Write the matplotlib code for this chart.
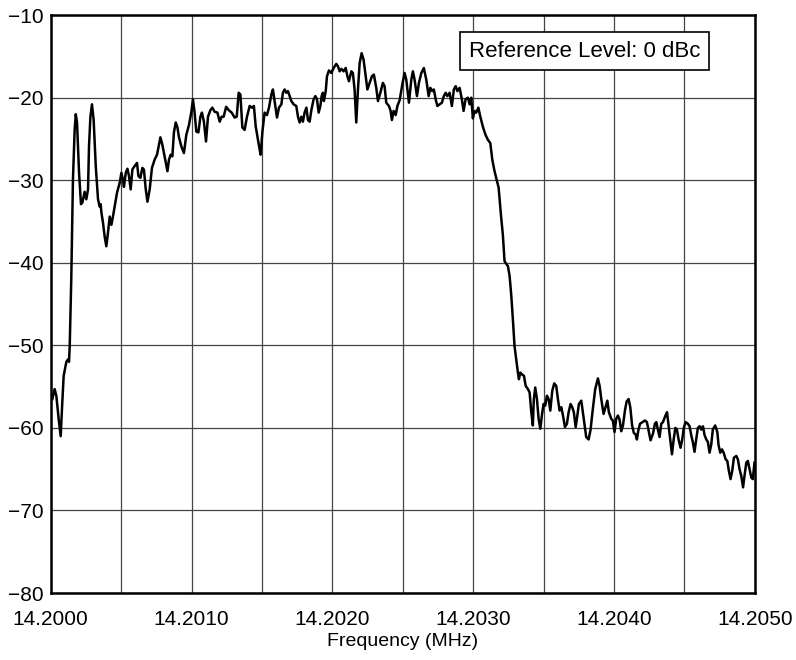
import numpy as np
import matplotlib.pyplot as plt
from matplotlib.ticker import MultipleLocator, FormatStrFormatter

plt.rcParams['font.family'] = ['Liberation Sans', 'DejaVu Sans']

# trace: offset from 14.2 MHz in Hz, level in dBc
offset_hz = [
    12, 28, 40, 57, 71, 82, 92, 111, 123, 130, 135, 146, 158, 170, 178, 187,
    201, 215, 225, 241, 253, 265, 272, 282, 293, 305, 320, 336, 348, 355, 360,
    371, 383, 395, 407, 419, 431, 442, 454, 471, 490, 502, 513, 520, 533, 545,
    556, 568, 580, 591, 604, 613, 623, 637, 651, 662, 675, 687, 703, 719, 738,
    755, 779, 793, 809, 829, 840, 852, 864, 875, 888, 900, 911, 928, 946, 963,
    982, 999, 1010, 1022, 1034, 1049, 1063, 1074, 1088, 1103, 1117, 1134, 1148,
    1164, 1184, 1200, 1214, 1228, 1246, 1264, 1285, 1306, 1321, 1335, 1347,
    1361, 1377, 1394, 1413, 1429, 1443, 1456, 1472, 1484, 1491, 1503, 1519,
    1536, 1550, 1567, 1578, 1593, 1607, 1621, 1638, 1649, 1661, 1673, 1685,
    1697, 1709, 1725, 1744, 1756, 1768, 1780, 1791, 1803, 1816, 1827, 1839,
    1851, 1867, 1880, 1891, 1903, 1915, 1924, 1933, 1940, 1953, 1962, 1976,
    1993, 2009, 2028, 2040, 2052, 2064, 2080, 2095, 2107, 2118, 2135, 2146,
    2158, 2170, 2182, 2194, 2208, 2222, 2237, 2249, 2265, 2281, 2295, 2312,
    2324, 2341, 2359, 2371, 2383, 2402, 2414, 2423, 2435, 2450, 2462, 2478,
    2489, 2499, 2513, 2525, 2544, 2561, 2572, 2584, 2601, 2615, 2632, 2650,
    2667, 2684, 2696, 2710, 2721, 2734, 2746, 2762, 2778, 2792, 2805, 2817,
    2833, 2849, 2863, 2876, 2888, 2904, 2920, 2932, 2946, 2963, 2975, 2987,
    2998, 3010, 3022, 3037, 3051, 3069, 3088, 3105, 3122, 3136, 3152, 3169,
    3181, 3188, 3199, 3211, 3223, 3234, 3247, 3259, 3271, 3282, 3294, 3306,
    3318, 3325, 3335, 3346, 3361, 3373, 3389, 3401, 3413, 3424, 3431, 3441,
    3453, 3465, 3477, 3488, 3500, 3512, 3524, 3536, 3548, 3562, 3576, 3590,
    3602, 3614, 3626, 3638, 3652, 3666, 3678, 3692, 3704, 3715, 3728, 3740,
    3751, 3768, 3779, 3791, 3803, 3820, 3834, 3850, 3867, 3886, 3898, 3910,
    3926, 3940, 3953, 3964, 3981, 3992, 4004, 4016, 4028, 4040, 4052, 4064,
    4078, 4090, 4104, 4116, 4129, 4141, 4154, 4163, 4173, 4185, 4203, 4220,
    4234, 4248, 4260, 4277, 4291, 4301, 4312, 4324, 4336, 4348, 4366, 4377,
    4388, 4400, 4412, 4424, 4436, 4447, 4459, 4473, 4485, 4496, 4509, 4525,
    4537, 4549, 4560, 4572, 4584, 4596, 4608, 4620, 4632, 4644, 4656, 4667,
    4679, 4691, 4702, 4719, 4734, 4743, 4755, 4767, 4779, 4793, 4805, 4816,
    4828, 4840, 4852, 4869, 4880, 4892, 4904, 4917, 4927, 4940, 4951, 4963,
    4975, 4986, 4998,
]
level_dbc = [
    -56.5, -55.3, -56.1, -59.0, -61.0, -57.0, -53.7, -52.0, -51.7, -52.0, -50.1, -42.0, -29.9, -23.9, -22.0, -23.0,
    -29.0, -32.9, -32.7, -31.4, -32.3, -31.1, -25.9, -22.3, -20.8, -22.7, -28.3, -32.3, -33.2, -32.9, -33.9,
    -35.1, -36.8, -38.0, -36.3, -34.4, -35.4, -34.4, -33.2, -31.5, -30.3, -29.1, -29.9, -30.8, -29.1, -28.6,
    -29.5, -31.1, -28.7, -28.4, -28.1, -27.9, -29.5, -29.7, -28.5, -28.7, -31.1, -32.6, -31.1, -28.5, -27.5,
    -26.9, -24.8, -25.7, -27.1, -28.9, -27.5, -26.9, -27.1, -24.2, -23.0, -23.6, -24.8, -25.9, -26.7, -24.5,
    -23.3, -21.7, -20.2, -21.8, -24.1, -24.2, -22.3, -21.8, -22.9, -25.3, -22.3, -21.5, -21.2,
    -21.7, -21.8, -22.9, -22.3, -22.3, -21.1, -21.5, -21.8, -22.4, -22.3, -19.4, -19.6,
    -23.6, -23.9, -22.3, -21.0, -21.2, -21.0, -23.5, -25.1, -26.3, -26.9, -24.2, -21.8,
    -22.1, -21.2, -19.6, -19.0, -20.8, -22.4, -21.2, -20.8, -19.4, -19.0, -19.4, -19.2,
    -19.8, -20.4, -20.8, -21.0, -22.3, -23.0, -22.3, -22.9, -21.8, -21.2, -22.7, -22.9,
    -21.5, -20.2, -19.8, -20.2, -21.8, -21.0, -19.8, -19.4, -20.4, -19.2, -17.4, -16.7,
    -17.0, -16.4, -15.9, -16.2, -16.8, -16.5, -16.8, -16.4, -17.4, -18.0, -16.8, -17.0,
    -19.0, -23.0, -19.0, -15.8, -14.6, -15.4, -17.4, -19.0, -18.2, -17.4, -17.2, -18.8,
    -20.4, -19.4, -18.2, -18.6, -20.6, -21.0, -21.6, -22.7, -21.6, -22.1, -21.0, -20.3,
    -19.2, -18.2, -17.0, -17.8, -20.6, -17.8, -16.8, -17.8, -19.8, -18.2, -17.0, -16.4,
    -17.8, -19.8, -18.8, -19.2, -19.0, -20.2, -21.0, -20.8, -20.6, -19.8, -19.4, -19.8,
    -19.4, -21.0, -19.0, -18.6, -19.2, -18.8, -20.2, -21.6, -20.2, -20.0, -20.8, -20.0,
    -22.5, -21.6, -21.8, -21.2, -22.3, -23.5, -24.5, -25.1, -25.5, -27.5, -28.9, -30.1,
    -30.9, -32.3, -34.5, -36.6, -39.8, -40.1, -40.4, -41.6, -44.0, -46.8, -50.1, -51.7,
    -53.3, -54.1, -53.3, -53.5, -53.7, -54.9, -55.3, -55.7, -58.1, -59.7, -56.5, -55.1,
    -56.5, -58.9, -60.1, -58.5, -57.1, -57.3, -56.1, -56.5, -57.9, -55.5, -54.6, -54.9,
    -56.5, -57.9, -57.5, -58.5, -59.9, -59.5, -58.1, -57.1, -57.5, -58.1, -59.9, -58.5,
    -57.1, -56.7, -58.1, -59.7, -61.1, -61.4, -60.2, -57.7, -55.3, -54.0, -54.9, -56.5,
    -58.3, -57.5, -56.7, -58.1, -58.9, -59.1, -60.5, -58.9, -58.5, -59.0, -60.4, -59.7,
    -57.9, -56.8, -56.5, -57.5, -59.7, -60.6, -60.8, -61.4, -60.3, -59.5, -59.3, -59.1,
    -59.3, -60.5, -61.5, -60.7, -59.5, -59.3, -60.2, -61.1, -59.5, -59.3, -58.5, -58.1,
    -59.7, -61.4, -63.2, -61.4, -60.0, -60.2, -61.4, -62.4, -61.4, -60.0, -59.3, -59.5,
    -59.8, -60.9, -61.7, -62.9, -61.4, -60.0, -59.8, -60.2, -59.8, -60.9, -61.4, -61.7,
    -63.0, -62.0, -60.2, -59.7, -60.5, -62.1, -63.0, -62.6, -63.0, -63.8, -64.0, -65.2,
    -66.2, -65.2, -63.6, -63.4, -63.8, -65.0, -65.8, -67.2, -65.8, -64.2, -64.0, -65.0,
    -66.0, -66.2, -64.2,
]

freq_mhz = 14.2 + np.array(offset_hz) / 1e6

fig = plt.figure(figsize=(7.96, 6.6), dpi=100)
ax = fig.add_axes([0.0637, 0.1015, 0.8845, 0.8755])

ax.plot(freq_mhz, level_dbc, color='black', lw=1.8, zorder=3)

ax.set_xlim(14.2, 14.205)
ax.set_ylim(-80, -10)
ax.xaxis.set_major_locator(MultipleLocator(0.001))
ax.xaxis.set_minor_locator(MultipleLocator(0.0005))
ax.xaxis.set_major_formatter(FormatStrFormatter('%.4f'))
ax.yaxis.set_major_locator(MultipleLocator(10))
ax.grid(True, which='both', color='#444444', lw=0.9)
ax.tick_params(which='both', length=0, labelsize=15)
ax.tick_params(axis='x', pad=12)
ax.tick_params(axis='y', pad=5)
for s in ax.spines.values():
    s.set_linewidth(1.8)

ax.set_xlabel('Frequency (MHz)', fontsize=14, labelpad=3)

ax.text(0.758, 0.938, 'Reference Level: 0 dBc', transform=ax.transAxes,
        ha='center', va='center', fontsize=16, zorder=5,
        bbox=dict(boxstyle='square,pad=0.38', fc='white', ec='black', lw=1.2))

fig.savefig('out.png', dpi=100)
